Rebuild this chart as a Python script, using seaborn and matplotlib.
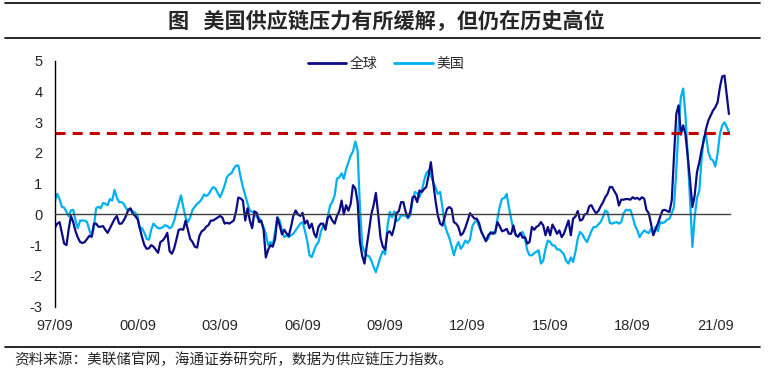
import pandas as pd
import matplotlib
matplotlib.use('Agg')
import matplotlib.pyplot as plt
from matplotlib.lines import Line2D
import seaborn as sns

# ── Data (monthly supply chain pressure index, from 1997/09) ──────────
start_month = '1997-09'

global_idx = [
    -0.43, -0.30, -0.25, -0.60, -0.95, -1.00, -0.50, -0.05, -0.25, -0.55,
    -0.75, -0.90, -0.93, -0.90, -0.80, -0.70, -0.72, -0.30, -0.30, -0.40,
    -0.40, -0.38, -0.50, -0.60, -0.45, -0.30, -0.15, -0.05, -0.30, -0.30,
    -0.20, -0.05, 0.15, 0.20, 0.02, -0.05, -0.15, -0.45, -0.75, -1.00,
    -1.12, -1.10, -1.00, -1.05, -1.15, -1.25, -0.90, -0.85, -0.75, -0.60,
    -1.20, -1.28, -1.10, -0.80, -0.50, -0.48, -0.50, -0.20, -0.50, -0.80,
    -0.90, -1.05, -1.08, -0.70, -0.55, -0.50, -0.40, -0.35, -0.20, -0.20,
    -0.15, -0.10, -0.05, -0.10, -0.30, -0.27, -0.30, -0.25, -0.20, 0.10,
    0.55, 0.52, 0.45, -0.20, 0.20, -0.20, -0.45, 0.10, 0.05, -0.25,
    -0.20, -0.50, -1.40, -1.15, -1.00, -1.05, -0.80, -0.10, -0.35, -0.65,
    -0.50, -0.62, -0.70, -0.40, -0.05, 0.13, 0.00, -0.05, 0.05, -0.30,
    -0.20, -0.45, -0.30, -0.62, -0.75, -0.40, -0.30, -0.30, -0.50, -0.10,
    -0.05, -0.20, -0.30, -0.05, 0.10, 0.45, 0.00, 0.30, 0.12, 0.35,
    0.95, 0.85, 0.40, -0.90, -1.35, -1.60, -1.00, -0.50, 0.00, 0.30,
    0.70, 0.00, -0.75, -1.05, -1.15, -0.60, -0.55, -0.68, -0.40, 0.05,
    0.10, 0.40, 0.40, 0.08, -0.09, 0.08, 0.56, 0.59, 0.40, 0.78,
    0.73, 0.83, 0.89, 1.27, 1.70, 1.05, 0.46, -0.03, -0.30, -0.36,
    -0.09, 0.18, 0.24, 0.18, -0.25, -0.30, -0.41, -0.68, -0.61, -0.43,
    -0.20, 0.04, -0.05, -0.14, -0.14, -0.30, -0.57, -0.72, -0.87, -0.68,
    -0.60, -0.63, -0.57, -0.25, -0.39, -0.55, -0.52, -0.47, -0.63, -0.63,
    -0.36, -0.68, -0.72, -0.61, -0.76, -0.74, -0.95, -0.90, -0.41, -0.50,
    -0.41, -0.36, -0.25, -0.36, -0.68, -0.41, -0.68, -0.33, -0.47, -0.63,
    -0.52, -0.74, -0.63, -0.41, -0.20, -0.68, -0.14, -0.07, 0.11, -0.20,
    -0.17, 0.00, 0.02, 0.27, 0.30, 0.15, 0.04, 0.11, 0.26, 0.39,
    0.56, 0.67, 0.89, 0.89, 0.75, 0.62, 0.29, 0.48, 0.48, 0.50,
    0.50, 0.48, 0.56, 0.51, 0.54, 0.48, 0.56, 0.51, 0.15, 0.04,
    -0.30, -0.68, -0.48, -0.30, -0.07, 0.13, 0.15, 0.11, 0.08, 0.46,
    1.86, 3.27, 3.55, 2.60, 2.90, 2.60, 1.86, 1.10, 0.24, 0.62,
    1.38, 1.70, 2.08, 2.41, 2.79, 3.06, 3.22, 3.38, 3.49, 3.65,
    4.14, 4.49, 4.52, 3.87, 3.27,
]

us_idx = [
    0.45, 0.67, 0.50, 0.25, 0.22, 0.08, -0.06, 0.13, 0.15, -0.20,
    -0.45, -0.20, -0.20, -0.20, -0.25, -0.50, -0.74, -0.40, 0.20, 0.25,
    0.20, 0.37, 0.35, 0.30, 0.50, 0.45, 0.80, 0.55, 0.40, 0.40,
    0.35, 0.20, 0.13, 0.13, 0.10, 0.05, -0.05, -0.45, -0.45, -0.60,
    -0.80, -0.82, -0.50, -0.30, -0.38, -0.45, -0.45, -0.42, -0.35, -0.38,
    -0.45, -0.40, -0.20, 0.10, 0.35, 0.62, 0.24, -0.10, -0.25, -0.10,
    0.15, 0.25, 0.35, 0.40, 0.50, 0.65, 0.60, 0.65, 0.78, 0.89,
    0.85, 0.70, 0.56, 0.73, 0.94, 1.21, 1.30, 1.34, 1.49, 1.59,
    1.59, 1.21, 0.89, 0.62, 0.35, 0.13, 0.08, 0.08, -0.09, -0.10,
    -0.25, -0.41, -0.63, -1.00, -0.90, -1.00, -0.57, -0.09, -0.20, -0.52,
    -0.74, -0.68, -0.74, -0.68, -0.63, -0.52, -0.41, -0.30, -0.25, -0.52,
    -0.85, -1.33, -1.39, -1.17, -1.00, -0.90, -0.57, -0.36, -0.47, -0.09,
    0.29, 0.40, 0.62, 1.16, 1.21, 1.34, 1.16, 1.48, 1.70, 1.92,
    2.05, 2.37, 2.08, 0.24, -1.00, -1.22, -1.33, -1.37, -1.50, -1.71,
    -1.88, -1.63, -1.39, -1.19, -1.30, -0.41, 0.08, -0.10, 0.10, -0.22,
    -0.17, -0.03, -0.03, -0.05, -0.13, -0.03, 0.46, 0.73, 0.69, 0.56,
    0.78, 1.10, 1.34, 1.43, 1.27, 1.05, 0.89, 0.67, 0.73, 0.24,
    -0.33, -0.57, -0.76, -1.04, -1.33, -1.06, -0.90, -1.12, -1.01, -0.85,
    -0.93, -0.82, -0.39, -0.25, -0.20, -0.41, -0.54, -0.72, -0.87, -0.79,
    -0.57, -0.57, -0.63, -0.14, 0.26, 0.51, 0.53, 0.67, 0.24, -0.14,
    -0.52, -0.65, -0.74, -0.61, -0.57, -0.79, -1.17, -1.33, -1.33, -1.26,
    -1.22, -1.17, -1.60, -1.50, -1.12, -0.85, -0.90, -1.01, -1.01, -1.14,
    -1.14, -1.22, -1.30, -1.52, -1.60, -1.40, -1.55, -1.22, -0.79, -0.57,
    -0.65, -0.79, -0.90, -0.72, -0.54, -0.41, -0.41, -0.33, -0.25, -0.09,
    0.13, 0.08, -0.28, -0.30, -0.27, -0.25, -0.30, -0.25, 0.02, 0.15,
    0.13, 0.15, -0.09, -0.36, -0.52, -0.74, -0.61, -0.52, -0.57, -0.61,
    -0.47, -0.63, -0.41, -0.55, -0.25, -0.28, -0.25, -0.17, -0.14, 0.04,
    0.24, 1.43, 2.84, 3.82, 4.10, 3.22, 1.86, 0.46, -1.06, -0.09,
    0.54, 0.78, 1.76, 2.51, 2.57, 2.03, 1.81, 1.76, 1.56, 1.97,
    2.62, 2.89, 3.00, 2.84, 2.68,
]

tick_labels = ['97/09', '00/09', '03/09', '06/09', '09/09',
               '12/09', '15/09', '18/09', '21/09']
threshold = 2.66

months = pd.date_range(start_month, periods=len(global_idx), freq='MS')
df = pd.DataFrame({'月份': months, '全球': global_idx, '美国': us_idx})

dark = '#0B0B86'
light = '#00B0F0'
cjk = ['Noto Sans CJK SC', 'DejaVu Sans']

sns.set_style('white')
plt.rcParams['font.family'] = ['Liberation Sans', 'Noto Sans CJK SC', 'DejaVu Sans']
plt.rcParams['axes.unicode_minus'] = False

# ── Chart ─────────────────────────────────────────────
fig = plt.figure(figsize=(7.72, 3.78), dpi=100)
ax = fig.add_axes([0.0712, 0.189, 0.874, 0.650])

sns.lineplot(data=df, x='月份', y='美国', color=light, lw=1.6, ax=ax)
sns.lineplot(data=df, x='月份', y='全球', color=dark, lw=1.6, ax=ax)
ax.axhline(threshold, color='#C00000', lw=2.2, dashes=(3.3, 2.3))

ax.set_ylim(-3, 5)
ax.set_yticks(range(-3, 6))
ax.set_xlim(months[0], months[-1] + pd.Timedelta(days=10))
ticks = pd.date_range(start_month, periods=len(tick_labels), freq='36MS')
ax.set_xticks(ticks)
ax.set_xticklabels(tick_labels)
ax.set_xlabel('')
ax.set_ylabel('')

for side in ['top', 'right']:
    ax.spines[side].set_visible(False)
ax.spines['left'].set_color('black')
ax.spines['left'].set_linewidth(1)
# x axis sits on the zero line, labels stay at the bottom
ax.spines['bottom'].set_position(('data', 0))
ax.spines['bottom'].set_color('#404040')
ax.spines['bottom'].set_linewidth(1)
ax.tick_params(axis='x', direction='out', length=4, width=1, color='#404040',
               pad=71, labelsize=10.5)
ax.tick_params(axis='y', direction='out', length=4, width=1, color='black',
               pad=5, labelsize=10.5)

handles = [Line2D([], [], color=dark, lw=2), Line2D([], [], color=light, lw=2)]
fig.legend(handles, ['全球', '美国'], loc='center', bbox_to_anchor=(0.5, 0.831),
           ncol=2, frameon=False, handlelength=2.8, handletextpad=0.25,
           columnspacing=1.2, prop={'family': cjk, 'size': 10})

# title box and footer
fig.add_artist(Line2D([0.0065, 0.985], [0.9913, 0.9913], transform=fig.transFigure,
                      color='black', lw=1.2))
fig.add_artist(Line2D([0.0065, 0.985], [0.8987, 0.8987], transform=fig.transFigure,
                      color='black', lw=1.2))
fig.text(0.5, 0.944, '图   美国供应链压力有所缓解，但仍在历史高位', ha='center',
         va='center', fontsize=15.2, fontweight='bold', family=cjk)
fig.add_artist(Line2D([0.0065, 0.985], [0.082, 0.082], transform=fig.transFigure,
                      color='black', lw=1.2))
fig.text(0.019, 0.047, '资料来源：美联储官网，海通证券研究所，数据为供应链压力指数。',
         ha='left', va='center', fontsize=10.5, family=cjk)

fig.savefig('out.png', dpi=100)
